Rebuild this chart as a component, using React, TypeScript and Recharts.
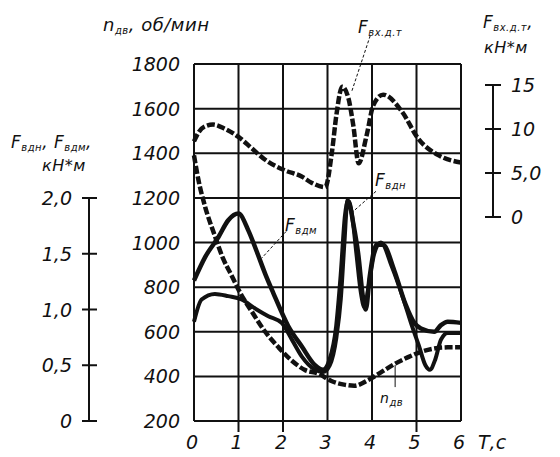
import React from "react";
import { LineChart, Line, XAxis, YAxis, CartesianGrid, ReferenceLine } from "recharts";

// time, s
const T_TICKS = [0, 1, 2, 3, 4, 5, 6];
const T_MARKED = [1, 2, 5];
// n_дв, об/мин
const N_TICKS = [200, 400, 600, 800, 1000, 1200, 1400, 1600, 1800];
// F_вдн, F_вдм, кН*м
const F_TICKS = [0, 0.5, 1, 1.5, 2];
const F_LABELS = ["0", "0,5", "1,0", "1,5", "2,0"];
// F_вх.д.т, кН*м
const FX_TICKS = [0, 5, 10, 15];
const FX_LABELS = ["0", "5,0", "10", "15"];

// [t, value]
const N_DV: [number, number][] = [
  [0, 1390], [0.1, 1280], [0.25, 1160], [0.45, 1040], [0.65, 930], [0.85, 850], [1.05, 770],
  [1.3, 690], [1.6, 600], [1.9, 530], [2.2, 470], [2.5, 428], [2.8, 412], [3.1, 378],
  [3.4, 362], [3.6, 358], [3.9, 382], [4.2, 418], [4.5, 455], [4.8, 485], [5.1, 510],
  [5.4, 525], [5.7, 530], [6, 530],
];
const F_VHDT: [number, number][] = [
  [0, 8.6], [0.1, 9.6], [0.25, 10.3], [0.43, 10.5], [0.7, 10.0], [1.0, 9.1], [1.3, 7.8],
  [1.6, 6.5], [2.04, 5.3], [2.42, 4.6], [2.64, 3.9], [2.95, 3.4], [3.1, 7.4], [3.2, 11.6],
  [3.33, 14.8], [3.47, 13.5], [3.58, 10.4], [3.7, 6.1], [3.88, 9.3], [4.03, 12.7],
  [4.25, 13.9], [4.67, 12.0], [5.04, 8.9], [5.5, 7.0], [6, 6.2],
];
const F_VDN: [number, number][] = [
  [0, 0.89], [0.17, 1.09], [0.47, 1.14], [0.77, 1.12], [1.07, 1.09], [1.37, 1.01], [1.67, 0.94],
  [1.97, 0.88], [2.2, 0.73], [2.42, 0.58], [2.72, 0.46], [2.9, 0.44], [3.05, 0.5], [3.2, 0.75],
  [3.3, 1.1], [3.38, 1.6], [3.45, 1.98], [3.55, 1.85], [3.65, 1.5], [3.75, 1.15], [3.83, 1.02],
  [3.92, 1.2], [4.05, 1.5], [4.2, 1.6], [4.45, 1.38], [4.7, 1.1], [4.9, 0.85], [5.05, 0.68],
  [5.2, 0.5], [5.3, 0.46], [5.42, 0.55], [5.55, 0.73], [5.7, 0.79], [6, 0.79],
];
const F_VDM: [number, number][] = [
  [0, 1.26], [0.25, 1.47], [0.55, 1.65], [0.77, 1.8], [1.0, 1.86], [1.22, 1.71], [1.41, 1.52],
  [1.6, 1.32], [1.78, 1.15], [2.12, 0.85], [2.42, 0.67], [2.72, 0.5], [2.9, 0.46], [3.05, 0.55],
  [3.2, 0.85], [3.3, 1.3], [3.4, 1.85], [3.47, 1.97], [3.58, 1.77], [3.69, 1.5], [3.8, 1.1],
  [3.86, 1.0], [3.95, 1.3], [4.1, 1.58], [4.25, 1.58], [4.5, 1.35], [4.75, 1.05], [4.95, 0.88],
  [5.1, 0.83], [5.4, 0.8], [5.55, 0.86], [5.7, 0.89], [6, 0.88],
];

const rows = (pts: [number, number][]) => pts.map(([t, v]) => ({ t, v }));

const W = 552, H = 449;
const PLOT_H = 357;
const F_PAD_TOP = 134;
const FX_PAD = { top: 21, bottom: 204 };
const F_STEP = (PLOT_H - F_PAD_TOP) / (F_TICKS.length - 1);
const FX_STEP = (PLOT_H - FX_PAD.top - FX_PAD.bottom) / (FX_TICKS.length - 1);

const FONT = "'DejaVu Sans', 'Liberation Sans', sans-serif";
const INK = "#111";
const txt = { fontFamily: FONT, fontStyle: "italic" as const, fill: INK };

function NTick({ x, y, payload }: any) {
  return <text x={x} y={y} textAnchor="end" dominantBaseline="central" fontSize={19} {...txt}>{payload.value}</text>;
}
function TTick({ x, y, payload }: any) {
  const v = payload.value;
  return (
    <g>
      {T_MARKED.includes(v) && <line x1={x} x2={x} y1={y} y2={y + 11} stroke={INK} strokeWidth={2} />}
      <text x={x - 2} y={y + 21} textAnchor="middle" dominantBaseline="central" fontSize={19} {...txt}>{v}</text>
      {v === 6 && <text x={x + 17} y={y + 21} dominantBaseline="central" fontSize={19} {...txt}>Т,с</text>}
    </g>
  );
}
function FTick({ x, y, payload }: any) {
  const v = payload.value;
  return (
    <g>
      {v > 0 && <line x1={x} x2={x} y1={y} y2={y + F_STEP} stroke={INK} strokeWidth={2} />}
      <line x1={x - 7} x2={x + 8} y1={y} y2={y} stroke={INK} strokeWidth={2} />
      <text x={x - 17} y={y} textAnchor="end" dominantBaseline="central" fontSize={19} {...txt}>{F_LABELS[F_TICKS.indexOf(v)]}</text>
    </g>
  );
}
function FxTick({ x, y, payload }: any) {
  const v = payload.value;
  return (
    <g>
      {v > 0 && <line x1={x} x2={x} y1={y} y2={y + FX_STEP} stroke={INK} strokeWidth={2} />}
      <line x1={x - 8} x2={x + 8} y1={y} y2={y} stroke={INK} strokeWidth={2} />
      <text x={x + 18} y={y} dominantBaseline="central" fontSize={19} {...txt}>{FX_LABELS[FX_TICKS.indexOf(v)]}</text>
    </g>
  );
}

function Note({ left, top, size = 17, children }: { left: number; top: number; size?: number; children: React.ReactNode }) {
  return (
    <div style={{ position: "absolute", left, top, fontFamily: FONT, fontStyle: "italic", fontSize: size, lineHeight: 1, color: INK, whiteSpace: "nowrap", letterSpacing: 0.5 }}>
      {children}
    </div>
  );
}
const Sub = ({ children }: { children: React.ReactNode }) => (
  <span style={{ fontSize: 10, position: "relative", top: 3 }}>{children}</span>
);

export default function App() {
  return (
    <div style={{ position: "relative", width: W, height: H }}>
      <LineChart width={W} height={H} margin={{ top: 56, right: 20, bottom: 6, left: 0 }}>
        <CartesianGrid stroke={INK} strokeWidth={2} />
        <XAxis type="number" dataKey="t" domain={[0, 6]} ticks={T_TICKS} interval={0} height={30}
          axisLine={false} tickLine={false} tickSize={0} tickMargin={0} tick={<TTick />} />
        <YAxis domain={[200, 1800]} ticks={N_TICKS} interval={0} width={105}
          axisLine={false} tickLine={false} tickSize={0} tickMargin={14} tick={<NTick />} />
        <YAxis yAxisId="f" domain={[0, 2]} ticks={F_TICKS} interval={0} width={81} padding={{ top: F_PAD_TOP, bottom: 0 }}
          axisLine={false} tickLine={false} tickSize={0} tickMargin={0} tick={<FTick />} />
        <YAxis yAxisId="r" orientation="right" domain={[0, 15]} ticks={FX_TICKS} interval={0} width={79} padding={FX_PAD}
          axisLine={false} tickLine={false} tickSize={0} tickMargin={32} tick={<FxTick />} />

        <Line data={rows(F_VHDT)} yAxisId="r" dataKey="v" type="monotone" stroke={INK} strokeWidth={4.5}
          strokeDasharray="8 2.5" dot={false} isAnimationActive={false} />
        <Line data={rows(N_DV)} dataKey="v" type="monotone" stroke={INK} strokeWidth={4.5}
          strokeDasharray="8 2.5" dot={false} isAnimationActive={false} />
        <Line data={rows(F_VDM)} yAxisId="f" dataKey="v" type="monotone" stroke={INK} strokeWidth={4.5}
          dot={false} isAnimationActive={false} />
        <Line data={rows(F_VDN)} yAxisId="f" dataKey="v" type="monotone" stroke={INK} strokeWidth={4}
          dot={false} isAnimationActive={false} />

        <ReferenceLine yAxisId="r" ifOverflow="visible" stroke={INK} strokeWidth={1} strokeDasharray="3 2"
          segment={[{ x: 3.96, y: 20.6 }, { x: 3.54, y: 14.2 }]} />
        <ReferenceLine yAxisId="f" ifOverflow="visible" stroke={INK} strokeWidth={1} strokeDasharray="3 2"
          segment={[{ x: 4.09, y: 2.06 }, { x: 3.55, y: 1.87 }]} />
        <ReferenceLine yAxisId="f" ifOverflow="visible" stroke={INK} strokeWidth={1} strokeDasharray="3 2"
          segment={[{ x: 2.07, y: 1.7 }, { x: 1.52, y: 1.46 }]} />
        <ReferenceLine ifOverflow="visible" stroke={INK} strokeWidth={1}
          segment={[{ x: 4.52, y: 451 }, { x: 4.52, y: 352 }]} />
      </LineChart>

      <Note left={95} top={8} size={18}>n<Sub>дв</Sub>, об/мин</Note>
      <Note left={3} top={126}>F<Sub>вдн</Sub>, F<Sub>вдм</Sub>,</Note>
      <Note left={34} top={150} size={16}>кН*м</Note>
      <Note left={475} top={6}>F<Sub>вх.д.т</Sub>,</Note>
      <Note left={476} top={32} size={16}>кН*м</Note>
      <Note left={350} top={11}>F<Sub>вх.д.т</Sub></Note>
      <Note left={367} top={164}>F<Sub>вдн</Sub></Note>
      <Note left={277} top={209}>F<Sub>вдм</Sub></Note>
      <Note left={372} top={383} size={14}>n<Sub>дв</Sub></Note>
    </div>
  );
}
